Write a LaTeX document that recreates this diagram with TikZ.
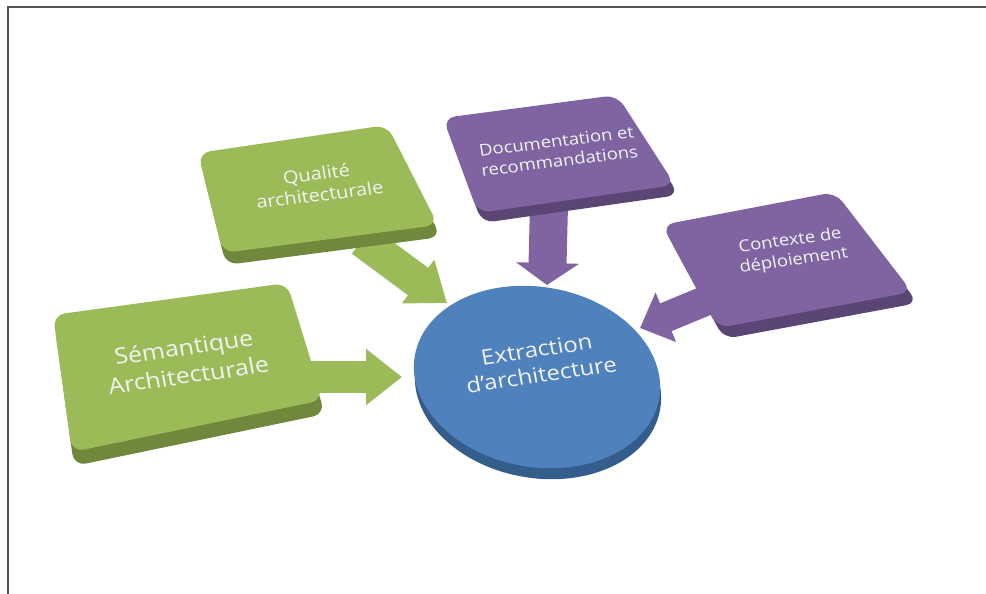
\documentclass[tikz,border=0pt]{standalone}
\usepackage{fontspec}
\setmainfont{Open Sans}
\usetikzlibrary{arrows.meta,shapes.geometric}
\definecolor{grtop}{HTML}{9BBB59}
\definecolor{grside}{HTML}{6F883C}
\definecolor{putop}{HTML}{8064A2}
\definecolor{puside}{HTML}{5A4574}
\definecolor{bltop}{HTML}{4F81BD}
\definecolor{blside}{HTML}{355D8C}
\definecolor{framecol}{HTML}{505050}
\definecolor{txtcol}{HTML}{F2F2F2}
\begin{document}
\begin{tikzpicture}[x=1pt,y=-1pt,
  lbl/.style={align=center,inner sep=0pt,yscale=0.88,text=txtcol},
  topface/.style={rounded corners=12pt},
  garrow/.style={draw=grtop,line width=#1},
  parrow/.style={draw=putop,line width=#1}]
\useasboundingbox (0,0) rectangle (986,594);
% frame
\draw[framecol,line width=1.3pt] (8,594) -- (8,7) -- (986,7);
% anchor coordinates for connectors
\coordinate (a1s) at (300,377);
\coordinate (a1e) at (402,377);
\coordinate (a2s) at (362,240);
\coordinate (a2e) at (447,303);
\coordinate (a3s) at (549,205);
\coordinate (a3e) at (547,285);
\coordinate (a4s) at (722,294);
\coordinate (a4e) at (640,328);
% block arrows
\draw[garrow=32pt,-{Triangle[length=36pt,width=54pt]}] (a1s) -- (a1e);
\draw[garrow=34pt,-{Triangle[length=36pt,width=52pt]}] (a2s) -- (a2e);
\draw[parrow=38pt,-{Triangle[length=22pt,width=62pt]}] (a3s) -- (a3e);
\draw[parrow=30pt,-{Triangle[length=28pt,width=52pt]}] (a4s) -- (a4e);
% central disc
\fill[blside,rotate around={-10:(538,388)}] (538,388) ellipse [x radius=124pt, y radius=90pt];
\fill[bltop,rotate around={-10:(537,377)}] (537,377) ellipse [x radius=124pt, y radius=90pt];
% Semantique box
\fill[grside,topface] (55,329) -- (289,297) -- (325,414) -- (74,466) -- cycle;
\fill[grtop,topface] (53,315) -- (287,283) -- (323,400) -- (72,452) -- cycle;
% Qualite box
\fill[grside,topface] (201,165) -- (390,137) -- (441,237) -- (226,265) -- cycle;
\fill[grtop,topface] (198,153) -- (387,125) -- (438,225) -- (223,253) -- cycle;
% Documentation box
\fill[puside,topface] (447,128) -- (621,105) -- (679,195) -- (482,223) -- cycle;
\fill[putop,topface] (443,118) -- (617,95) -- (675,185) -- (478,213) -- cycle;
% Contexte box
\fill[puside,topface] (668,236) -- (841,203) -- (918,303) -- (724,339) -- cycle;
\fill[putop,topface] (662,225) -- (835,192) -- (912,292) -- (718,328) -- cycle;
% labels
\node[lbl,rotate=9,font=\fontsize{25}{32}\selectfont] (sem) at (186,361) {Sémantique\\Architecturale};
\node[lbl,rotate=8,font=\fontsize{20}{24}\selectfont] (qual) at (318,184) {Qualité\\architecturale};
\node[lbl,rotate=8,font=\fontsize{18.5}{22.5}\selectfont] (doc) at (558,151) {Documentation et\\recommandations};
\node[lbl,rotate=9,font=\fontsize{18.5}{23}\selectfont] (ctx) at (792,251) {Contexte de\\déploiement};
\node[lbl,rotate=9.5,font=\fontsize{24}{29}\selectfont] (ext) at (539,362) {Extraction\\d’architecture};
\end{tikzpicture}
\end{document}
